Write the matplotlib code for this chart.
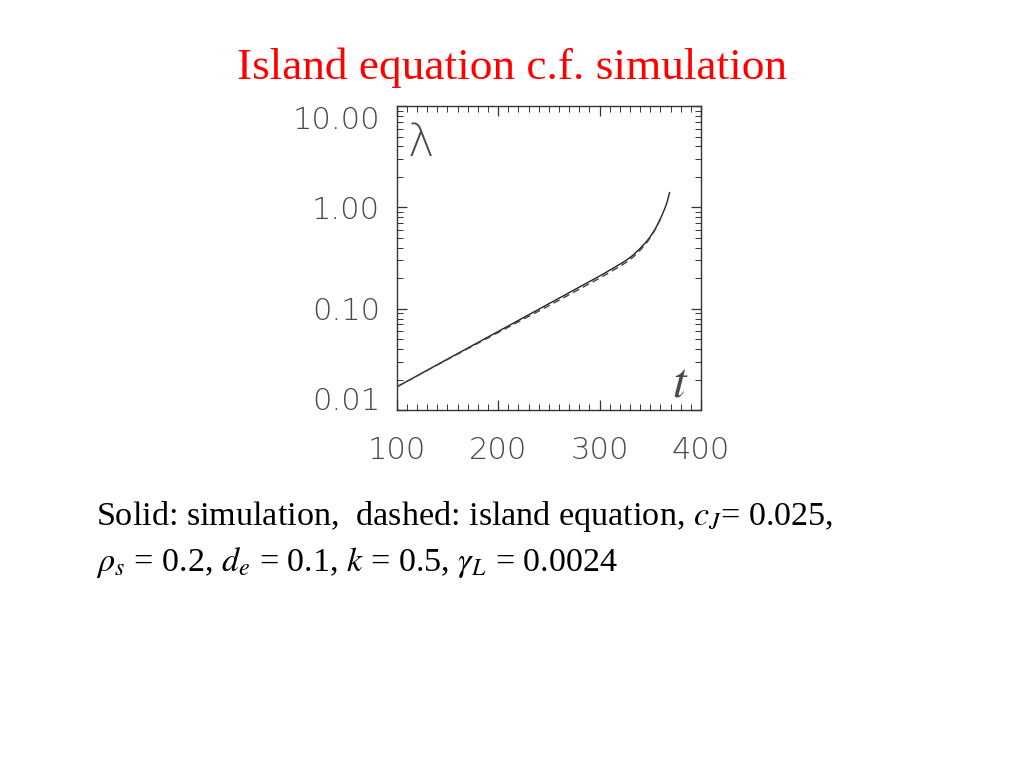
import matplotlib
matplotlib.use("Agg")
import matplotlib.pyplot as plt
from matplotlib.ticker import FixedLocator, MultipleLocator, LogLocator, NullFormatter

# -------------------------------
# Data
# -------------------------------
t_sim = [100, 150, 200, 250, 300, 313, 320, 327, 333, 340, 346, 350, 355, 358, 361, 364, 366, 369]
lam_sim = [0.0169, 0.0318, 0.0596, 0.112, 0.210, 0.250, 0.275, 0.304, 0.338, 0.394, 0.457,
           0.515, 0.617, 0.705, 0.817, 0.959, 1.084, 1.40]

t_isl = [100, 150, 200, 250, 300, 313, 320, 327, 333, 340, 346, 350, 355, 358, 361]
lam_isl = [0.0169, 0.0315, 0.0582, 0.107, 0.200, 0.238, 0.262, 0.290, 0.323, 0.378, 0.442,
           0.502, 0.607, 0.697, 0.81]

x_ticks = [100, 200, 300, 400]
y_ticks = [0.01, 0.1, 1.0, 10.0]
y_labels = ["0.01", "0.10", "1.00", "10.00"]

title = "Island equation c.f. simulation"
caption1 = r"Solid: simulation,  dashed: island equation, $c_J$= 0.025,"
caption2 = r"$\rho_s$ = 0.2, $d_e$ = 0.1, $k$ = 0.5, $\gamma_L$ = 0.0024"

plt.rcParams["mathtext.fontset"] = "stix"

fig = plt.figure(figsize=(10.24, 7.68), dpi=100)
fig.patch.set_facecolor("white")

ax = fig.add_axes([0.3874, 0.4661, 0.2972, 0.3958])

ax.plot(t_sim, lam_sim, color="#222222", lw=1.0)
ax.plot(t_isl, lam_isl, color="#444444", lw=1.0, ls=(0, (5, 3)))

ax.set_yscale("log")
ax.set_xlim(100, 400)
ax.set_ylim(0.01, 10)

ax.xaxis.set_major_locator(FixedLocator(x_ticks))
ax.xaxis.set_minor_locator(MultipleLocator(10))
ax.yaxis.set_major_locator(FixedLocator(y_ticks))
ax.yaxis.set_minor_locator(LogLocator(base=10, subs=range(2, 10)))
ax.yaxis.set_minor_formatter(NullFormatter())
ax.set_yticklabels(y_labels)

gray = "#4a4a4a"
ax.tick_params(which="both", direction="in", top=True, right=True, colors="#333333",
               labelcolor=gray, labelsize=22)
ax.tick_params(which="major", length=7, width=0.9)
ax.tick_params(which="minor", length=4, width=0.7)
ax.tick_params(axis="x", pad=19)
ax.tick_params(axis="y", pad=12)
for lab in ax.get_xticklabels() + ax.get_yticklabels():
    lab.set_fontweight("light")

# end labels sit inside the range, as in the original
yt = ax.yaxis.get_major_ticks()
yt[0].label1.set_va("baseline")
yt[-1].label1.set_va("top")

for s in ax.spines.values():
    s.set_color("#333333")
    s.set_linewidth(1.0)

# axis labels inside the box
ax.text(0.035, 0.878, "\u03bb", transform=ax.transAxes, fontsize=32,
        color=gray, ha="left", va="center", fontweight="light")
ax.text(0.93, 0.09, r"$t$", transform=ax.transAxes, fontsize=35,
        color=gray, ha="center", va="center")

# title and caption
fig.text(0.5, 0.912, title, color="red", fontsize=32.6, ha="center", va="center",
         family="Liberation Serif")
fig.text(0.094, 0.328, caption1, fontsize=24.6, ha="left", va="center",
         family="Liberation Serif")
fig.text(0.094, 0.268, caption2, fontsize=24.6, ha="left", va="center",
         family="Liberation Serif")

fig.savefig("out.png", dpi=100)
